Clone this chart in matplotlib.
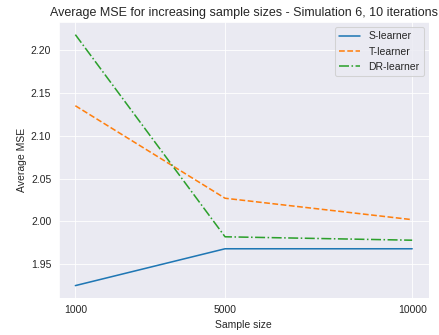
import matplotlib
matplotlib.use("Agg")
import matplotlib.pyplot as plt
import seaborn as sns

sample_sizes = [1000, 5000, 10000]
s_learner = [1.925, 1.968, 1.968]
t_learner = [2.135, 2.027, 2.002]
dr_learner = [2.218, 1.982, 1.978]

sns.set_style("darkgrid")
plt.rcParams['font.family'] = ['Liberation Sans', 'DejaVu Sans']

fig, ax = plt.subplots(figsize=(440 / 75, 335 / 75), dpi=75)
ax.plot(sample_sizes, s_learner, '-', label='S-learner')
ax.plot(sample_sizes, t_learner, '--', label='T-learner')
ax.plot(sample_sizes, dr_learner, '-.', label='DR-learner')

ax.set_xticks(sample_sizes)
ax.set_title('Average MSE for increasing sample sizes - Simulation 6, 10 iterations')
ax.set_xlabel('Sample size')
ax.set_ylabel('Average MSE')
ax.legend(loc='upper right')

fig.subplots_adjust(left=0.133, right=0.975, top=0.934, bottom=0.110)
fig.savefig('out.png')
